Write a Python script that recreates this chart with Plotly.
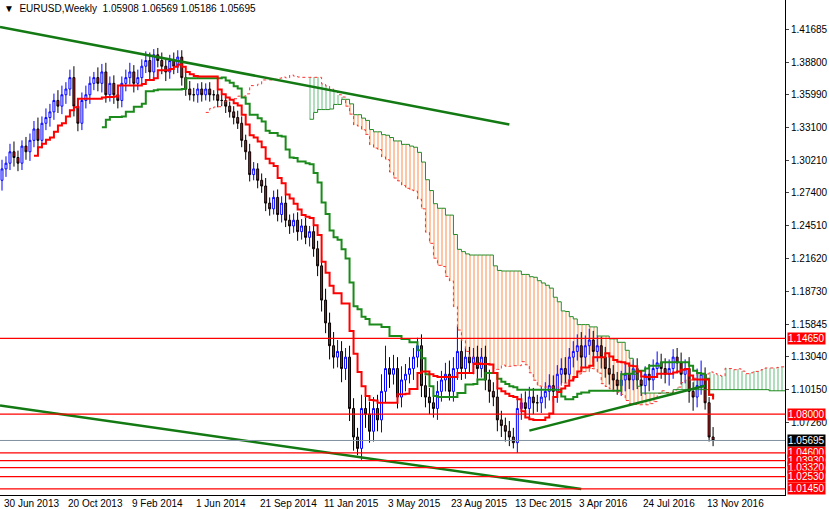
import plotly.graph_objects as go
import pandas as pd
import numpy as np

# Weekly closes (EURUSD), week 0 = 30 Jun 2013
close = [1.295,1.30,1.31,1.305,1.30, 1.315,1.31,1.32,1.33,1.32,
         1.335,1.34,1.345,1.355,1.35, 1.36,1.365,1.375,1.35,1.335,
         1.355,1.36,1.37,1.375,1.37, 1.38,1.36,1.37,1.36,1.355,
         1.37,1.375,1.38,1.37,1.375, 1.385,1.39,1.38,1.395,1.39,
         1.385,1.38,1.39,1.385,1.393, 1.375,1.365,1.36,1.36,1.365,
         1.36,1.365,1.36,1.36,1.355, 1.355,1.35,1.345,1.34,1.335,
         1.32,1.31,1.29,1.295,1.285, 1.28,1.265,1.26,1.27,1.255,
         1.265,1.25,1.245,1.25,1.24, 1.245,1.235,1.24,1.225,1.21,
         1.18,1.16,1.14,1.13,1.135, 1.12,1.13,1.085,1.06,1.05,
         1.085,1.08,1.065,1.085,1.075, 1.10,1.12,1.115,1.12,1.095,
         1.11,1.115,1.12,1.13,1.14, 1.105,1.095,1.09,1.085,1.10,
         1.11,1.115,1.10,1.12,1.135, 1.12,1.13,1.125,1.13,1.12,
         1.13,1.11,1.10,1.095,1.075, 1.07,1.065,1.06,1.055,1.085,
         1.09,1.085,1.095,1.09,1.09, 1.095,1.10,1.105,1.10,1.115,
         1.12,1.115,1.13,1.135,1.14, 1.13,1.14,1.145,1.135,1.14,
         1.13,1.12,1.115,1.11,1.105, 1.11,1.115,1.11,1.12,1.11,
         1.105,1.115,1.11,1.12,1.125, 1.12,1.115,1.12,1.13,1.125,
         1.115,1.12,1.10,1.095,1.105, 1.115,1.09,1.06,1.05695]
first_open = 1.285
upper_wick = [0.008,0.006,0.007,0.009,0.006, 0.005,0.008,0.006,0.007,0.01,
              0.006,0.008,0.007,0.006,0.009, 0.008,0.006,0.007,0.01,0.006,
              0.007,0.008,0.006,0.005,0.009, 0.007,0.008,0.006,0.007,0.008,
              0.006,0.007,0.008,0.006,0.007, 0.006,0.008,0.007,0.005,0.006,
              0.007,0.006,0.005,0.007,0.006, 0.006,0.005,0.007,0.006,0.005,
              0.006,0.005,0.006,0.004,0.005, 0.006,0.005,0.004,0.005,0.006,
              0.006,0.005,0.007,0.006,0.005, 0.006,0.007,0.005,0.006,0.007,
              0.006,0.008,0.005,0.006,0.007, 0.006,0.007,0.005,0.006,0.007,
              0.008,0.01,0.009,0.012,0.01, 0.009,0.008,0.01,0.009,0.008,
              0.012,0.01,0.011,0.01,0.012, 0.015,0.02,0.01,0.012,0.01,
              0.012,0.009,0.01,0.008,0.007, 0.01,0.009,0.008,0.01,0.009,
              0.008,0.01,0.012,0.01,0.022, 0.01,0.008,0.009,0.008,0.01,
              0.008,0.01,0.009,0.008,0.01, 0.008,0.007,0.009,0.008,0.009,
              0.008,0.01,0.009,0.008,0.007, 0.009,0.008,0.01,0.009,0.008,
              0.009,0.01,0.008,0.009,0.01, 0.012,0.009,0.01,0.008,0.009,
              0.008,0.009,0.01,0.008,0.007, 0.008,0.009,0.01,0.008,0.009,
              0.008,0.007,0.009,0.008,0.01, 0.008,0.009,0.008,0.007,0.008,
              0.009,0.008,0.01,0.008,0.015, 0.012,0.006,0.005,0.0087]
lower_wick = [0.009,0.007,0.006,0.008,0.007, 0.006,0.007,0.008,0.006,0.009,
              0.007,0.006,0.008,0.007,0.006, 0.007,0.008,0.006,0.009,0.007,
              0.006,0.007,0.008,0.006,0.007, 0.008,0.007,0.006,0.008,0.007,
              0.006,0.007,0.006,0.008,0.006, 0.007,0.006,0.008,0.007,0.006,
              0.007,0.008,0.006,0.007,0.006, 0.007,0.006,0.005,0.006,0.007,
              0.006,0.005,0.006,0.005,0.006, 0.005,0.006,0.005,0.006,0.005,
              0.006,0.007,0.006,0.005,0.007, 0.006,0.007,0.006,0.005,0.006,
              0.007,0.006,0.007,0.006,0.008, 0.007,0.006,0.008,0.007,0.009,
              0.01,0.009,0.012,0.01,0.009, 0.012,0.01,0.011,0.012,0.006,
              0.01,0.012,0.01,0.009,0.01, 0.011,0.01,0.012,0.009,0.01,
              0.009,0.01,0.008,0.01,0.009, 0.01,0.009,0.01,0.008,0.01,
              0.009,0.01,0.008,0.009,0.01, 0.01,0.009,0.008,0.01,0.009,
              0.008,0.009,0.01,0.008,0.01, 0.01,0.009,0.008,0.005,0.009,
              0.01,0.008,0.009,0.01,0.008, 0.009,0.01,0.008,0.009,0.01,
              0.009,0.008,0.01,0.009,0.008, 0.01,0.009,0.008,0.01,0.009,
              0.01,0.008,0.009,0.01,0.008, 0.009,0.01,0.008,0.009,0.008,
              0.009,0.008,0.01,0.009,0.008, 0.009,0.008,0.01,0.009,0.008,
              0.009,0.008,0.01,0.012,0.009, 0.008,0.006,0.004,0.005]

date_labels = ["30 Jun 2013","20 Oct 2013","9 Feb 2014","1 Jun 2014","21 Sep 2014",
               "11 Jan 2015","3 May 2015","23 Aug 2015","13 Dec 2015","3 Apr 2016",
               "24 Jul 2016","13 Nov 2016"]
label_weeks = [0,16,32,48,64,80,96,112,128,144,160,176]
price_ticks = [1.41685,1.38800,1.35990,1.33100,1.30210,1.27400,1.24510,1.21620,
               1.18730,1.15845,1.13040,1.10150,1.07260]
red_levels = [1.14650,1.08000,1.04600,1.03930,1.03320,1.02530,1.01450]
current_price = 1.05695
upper_trend = [(-0.5,1.4195),(127,1.334)]
lower_trend = [(-0.5,1.0877),(145,1.0145)]
support_trend = [(132,1.0656),(176,1.1049)]

n = len(close)
w = np.arange(n)
opn = [first_open] + close[:-1]
high = [max(o,c)+u for o,c,u in zip(opn,close,upper_wick)]
low = [min(o,c)-d for o,c,d in zip(opn,close,lower_wick)]

df = pd.DataFrame({"h":high,"l":low})
tenkan = (df.h.rolling(9).max()+df.l.rolling(9).min())/2
kijun = (df.h.rolling(26).max()+df.l.rolling(26).min())/2
spanA = (tenkan+kijun)/2
spanB = (df.h.rolling(52).max()+df.l.rolling(52).min())/2
xs = w+26

fig = go.Figure()
A = spanA.values; B = spanB.values
mask = ~np.isnan(A) & ~np.isnan(B)
for cond, col in [(A>=B, "#1fa040"), (A<B, "#ff5a00")]:
    m = mask & cond
    fig.add_trace(go.Bar(x=xs[m], y=np.abs(A-B)[m], base=np.minimum(A,B)[m], width=1,
        marker=dict(color="rgba(0,0,0,0)", line_width=0,
                    pattern=dict(shape="|", fgcolor=col, size=4, solidity=0.35)),
        hoverinfo="skip", showlegend=False))
fig.add_trace(go.Scatter(x=xs, y=A, mode="lines", line=dict(color="#ff3030", width=1, shape="hv", dash="dot"), showlegend=False))
fig.add_trace(go.Scatter(x=xs, y=B, mode="lines", line=dict(color="#228b22", width=1, shape="hv"), showlegend=False))
fig.add_trace(go.Scatter(x=w, y=kijun, mode="lines", line=dict(color="#1a8a1a", width=2, shape="hv"), showlegend=False))
fig.add_trace(go.Scatter(x=w, y=tenkan, mode="lines", line=dict(color="#ff0000", width=2, shape="hv"), showlegend=False))

for tl in [upper_trend, lower_trend, support_trend]:
    fig.add_trace(go.Scatter(x=[p[0] for p in tl], y=[p[1] for p in tl], mode="lines",
                             line=dict(color="#137a13", width=2.5), showlegend=False))

fig.add_trace(go.Candlestick(x=w, open=opn, high=high, low=low, close=close,
    increasing=dict(line=dict(color="#0000ff", width=1), fillcolor="white"),
    decreasing=dict(line=dict(color="black", width=1), fillcolor="red"),
    whiskerwidth=0, showlegend=False))

for lv in red_levels:
    fig.add_hline(y=lv, line=dict(color="red", width=1.2))
    fig.add_annotation(x=1, xref="paper", y=lv, xanchor="left", xshift=2, showarrow=False, text=f"{lv:.5f}",
                       bgcolor="red", font=dict(color="white", size=10, family="Liberation Sans"), borderpad=0)
fig.add_hline(y=current_price, line=dict(color="#8090a0", width=1))
fig.add_annotation(x=1, xref="paper", y=current_price, xanchor="left", xshift=2, showarrow=False, text=f"{current_price:.5f}",
                   bgcolor="black", font=dict(color="white", size=10, family="Liberation Sans"), borderpad=0)

for wk, lab in zip(label_weeks, date_labels):
    fig.add_annotation(x=wk, y=0, yref="paper", xanchor="left", yanchor="top", yshift=-1, showarrow=False,
                       text=lab, font=dict(size=10, color="black", family="Liberation Sans"))

fig.add_annotation(x=0.003, y=0.997, xref="paper", yref="paper", xanchor="left", yanchor="top", showarrow=False,
                   text="▼  EURUSD,Weekly  1.05908 1.06569 1.05186 1.05695",
                   font=dict(size=10, color="black", family="Liberation Sans"))

fig.update_layout(width=829, height=509, margin=dict(l=0, r=44, t=0, b=14),
    paper_bgcolor="white", plot_bgcolor="white", barmode="overlay", bargap=0,
    font=dict(family="Liberation Sans", size=10, color="black"),
    xaxis=dict(range=[-0.5, 196], rangeslider=dict(visible=False), showgrid=False, zeroline=False,
               showticklabels=False, ticks="", showline=True, linecolor="black"),
    yaxis=dict(side="right", range=[1.00916, 1.44304], showgrid=False, zeroline=False,
               tickvals=price_ticks, ticktext=[f"{t:.5f}" for t in price_ticks],
               ticks="outside", ticklen=3, showline=True, linecolor="black", tickfont=dict(size=10)))
fig.write_html("out.html", config={"displayModeBar": False},
               post_script="document.body.style.margin='0';document.body.style.overflow='hidden';")
